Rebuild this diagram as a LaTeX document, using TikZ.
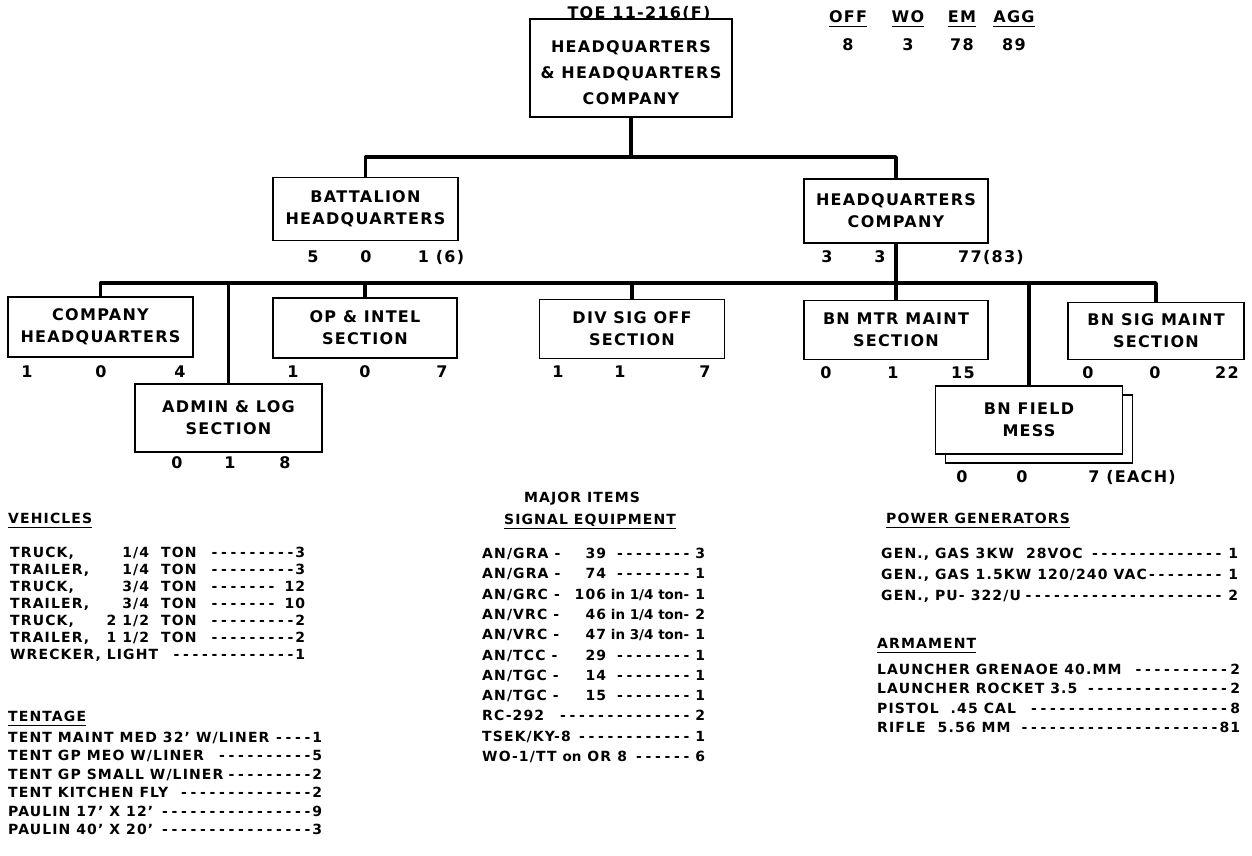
\documentclass[tikz,border=0pt]{standalone}
\usepackage{fontspec}
\setmainfont{DejaVu Sans}[LetterSpace=8]
\newcommand{\boxfont}{\fontsize{16}{22}\selectfont\bfseries}
\newcommand{\listfont}{\fontsize{14}{16}\selectfont\bfseries}
\newcommand{\dashfill}{\leaders\hbox to 9.5pt{\hss-\hss}\hfill}
\newcommand{\eqline}[3]{\hbox to #1{#2\dashfill#3}}
\newcommand{\tonnage}[2]{\makebox[104pt][l]{#1}\makebox[35pt][r]{#2}\ \ TON\ }
\newcommand{\radio}[2]{\makebox[86pt][l]{#1}\makebox[38pt][r]{#2}}
\newcommand{\lc}[1]{{\fontsize{13.5}{15}\selectfont\addfontfeature{LetterSpace=0}#1}}

\begin{document}
\begin{tikzpicture}[x=1pt,y=-1pt,
  unit/.style={draw, line width=1.4pt, fill=white, align=center, inner sep=0pt, font=\boxfont},
  strength/.style={font=\boxfont, inner sep=0pt},
  trunk/.style={line width=3.6pt, line join=round},
  rule/.style={line width=1.3pt},
  listitem/.style={anchor=base west, inner sep=0pt, font=\listfont},
  listhead/.style={anchor=base west, inner sep=0pt, text depth=0pt, font=\listfont}]

\useasboundingbox (0,0) rectangle (1252,856);

%Kopf
\node[strength] (toe) at (639,13) {TOE 11-216(F)};
\foreach \col/\x/\v in {OFF/848/8, WO/908/3, EM/962/78, AGG/1014/89}{
  \node[strength, text depth=0pt, anchor=base] (head-\col) at (\x,23) {\col};
  \draw[rule] ([yshift=-3pt]head-\col.south west) -- ([yshift=-3pt]head-\col.south east);
  \node[strength] (tot-\col) at (\x,45) {\v};
}

%Einheiten
\node[unit, minimum width=202pt, minimum height=98pt] (hhc) at (631,68) {\rule{0pt}{22pt}HEADQUARTERS\\[4pt] \& HEADQUARTERS\\[4pt] COMPANY};
\node[unit, minimum width=185pt, minimum height=63pt] (bnhq) at (365.5,209) {BATTALION\\HEADQUARTERS};
\node[unit, minimum width=184pt, minimum height=64pt] (hqco) at (896,211) {HEADQUARTERS\\COMPANY};
\node[unit, minimum width=185pt, minimum height=60pt] (cohq) at (100.5,327) {COMPANY\\HEADQUARTERS};
\node[unit, minimum width=184pt, minimum height=60pt] (opintel) at (365,328) {OP \& INTEL\\SECTION};
\node[unit, minimum width=185pt, minimum height=59pt] (divsig) at (632,329) {DIV SIG OFF\\SECTION};
\node[unit, minimum width=184pt, minimum height=59pt] (mtr) at (896,330) {BN MTR MAINT\\SECTION};
\node[unit, minimum width=176pt, minimum height=57pt] (sigmaint) at (1156,331) {BN SIG MAINT\\SECTION};
\node[unit, minimum width=187pt, minimum height=68pt] (adminlog) at (228.5,418) {ADMIN \& LOG\\SECTION};
\node[unit, minimum width=187pt, minimum height=68pt] (messback) at (1039,429) {};
\node[unit, minimum width=187pt, minimum height=68pt] (mess) at (1029,420) {BN FIELD\\MESS};

%Staerken
\foreach \nm/\y/\xa/\a/\xb/\b/\xc/\c in {
  bnhq/257/313/5/366/0/441/{1 (6)},
  hqco/257/827/3/880/3/991/{77(83)},
  cohq/372/27/1/101/0/180/4,
  opintel/372/293/1/365/0/442/7,
  divsig/372/558/1/620/1/705/7,
  mtr/373/826/0/893/1/963/15,
  sigmaint/373/1088/0/1155/0/1227/22,
  adminlog/463/177/0/230/1/285/8,
  mess/477/962/0/1022/0/1132/{7 (EACH)}}{
  \node[strength] (\nm-off) at (\xa,\y) {\a};
  \node[strength] (\nm-wo) at (\xb,\y) {\b};
  \node[strength] (\nm-em) at (\xc,\y) {\c};
}

%Linien
\coordinate (upbus) at (631,157);
\coordinate (lowbus) at (896,283);
\draw[trunk] (hhc.south) -- (upbus);
\draw[trunk] (bnhq.north) |- (upbus) -| (hqco.north);
\draw[trunk] (cohq.north) |- (lowbus) -| (sigmaint.north);
\draw[trunk] (hqco.south) -- (mtr.north);
\foreach \u in {adminlog,opintel,divsig,mess}
  \draw[trunk] (\u.north) -- (\u.north |- lowbus);

%Fahrzeuge
\node[listhead] (vehicles) at (8,523) {VEHICLES};
\draw[rule] ([yshift=-4pt]vehicles.south west) -- ([yshift=-4pt]vehicles.south east);
\foreach \txt/\n [count=\i] in {{\tonnage{TRUCK,}{1/4}}/3, {\tonnage{TRAILER,}{1/4}}/3,
    {\tonnage{TRUCK,}{3/4}}/12, {\tonnage{TRAILER,}{3/4}}/10, {\tonnage{TRUCK,}{2 1/2}}/2,
    {\tonnage{TRAILER,}{1 1/2}}/2, {WRECKER, LIGHT\ }/1}
  \node[listitem] (veh\i) at (10,{557.5+17*(\i-1)}) {\eqline{295pt}{\txt}{\n}};

%Zelte
\node[listhead] (tentage) at (8,721) {TENTAGE};
\draw[rule] ([yshift=-4pt]tentage.south west) -- ([yshift=-4pt]tentage.south east);
\foreach \txt/\n [count=\i] in {{TENT MAINT MED 32' W/LINER}/1, {TENT GP MEO W/LINER\ }/5,
    {TENT GP SMALL W/LINER}/2, {TENT KITCHEN FLY\ }/2, {PAULIN 17' X 12'\ }/9, {PAULIN 40' X 20'\ }/3}
  \node[listitem] (tent\i) at (8,{742.5+18.4*(\i-1)}) {\eqline{314pt}{\txt}{\n}};

%Fernmeldegeraet
\node[font=\listfont, inner sep=0pt] (major) at (582,499) {MAJOR ITEMS};
\node[listhead, anchor=base] (signal) at (590,524.5) {SIGNAL EQUIPMENT};
\draw[rule] ([yshift=-4pt]signal.south west) -- ([yshift=-4pt]signal.south east);
\foreach \txt/\n [count=\i] in {{\radio{AN/GRA\ -}{39}}/3, {\radio{AN/GRA\ -}{74}}/1,
    {\radio{AN/GRC\ -}{106}\lc{\ in 1/4 ton-}}/1, {\radio{AN/VRC\ -}{46}\lc{\ in 1/4 ton-}}/2,
    {\radio{AN/VRC\ -}{47}\lc{\ in 3/4 ton-}}/1, {\radio{AN/TCC\ -}{29}\ }/1,
    {\radio{AN/TGC\ -}{14}\ }/1, {\radio{AN/TGC\ -}{15}\ }/1, {RC-292\ }/2,
    {TSEK/KY-8}/1, {WO-1/TT \lc{on} OR 8\ }/6}
  \node[listitem] (sig\i) at (482,{558.5+20.3*(\i-1)}) {\eqline{223pt}{\txt}{\n}};

%Stromerzeuger
\node[listhead] (power) at (886,523.5) {POWER GENERATORS};
\draw[rule] ([yshift=-4pt]power.south west) -- ([yshift=-4pt]power.south east);
\foreach \txt/\n [count=\i] in {{GEN., GAS 3KW\ \ 28VOC\ }/1, {GEN., GAS\ 1.5KW 120/240 VAC}/1,
    {GEN., PU-\ 322/U}/2}
  \node[listitem] (gen\i) at (881,{558.5+21*(\i-1)}) {\eqline{357pt}{\txt}{\n}};

%Bewaffnung
\node[listhead] (armament) at (877,648.5) {ARMAMENT};
\draw[rule] ([yshift=-4pt]armament.south west) -- ([yshift=-4pt]armament.south east);
\foreach \txt/\n [count=\i] in {{LAUNCHER GRENAOE 40.MM\ }/2, {LAUNCHER ROCKET 3.5}/2,
    {PISTOL\ \ .45 CAL\ }/8, {RIFLE\ \ 5.56 MM\ }/81}
  \node[listitem] (arm\i) at (877,{674.5+19.3*(\i-1)}) {\eqline{363pt}{\txt}{\n}};

\end{tikzpicture}
\end{document}
